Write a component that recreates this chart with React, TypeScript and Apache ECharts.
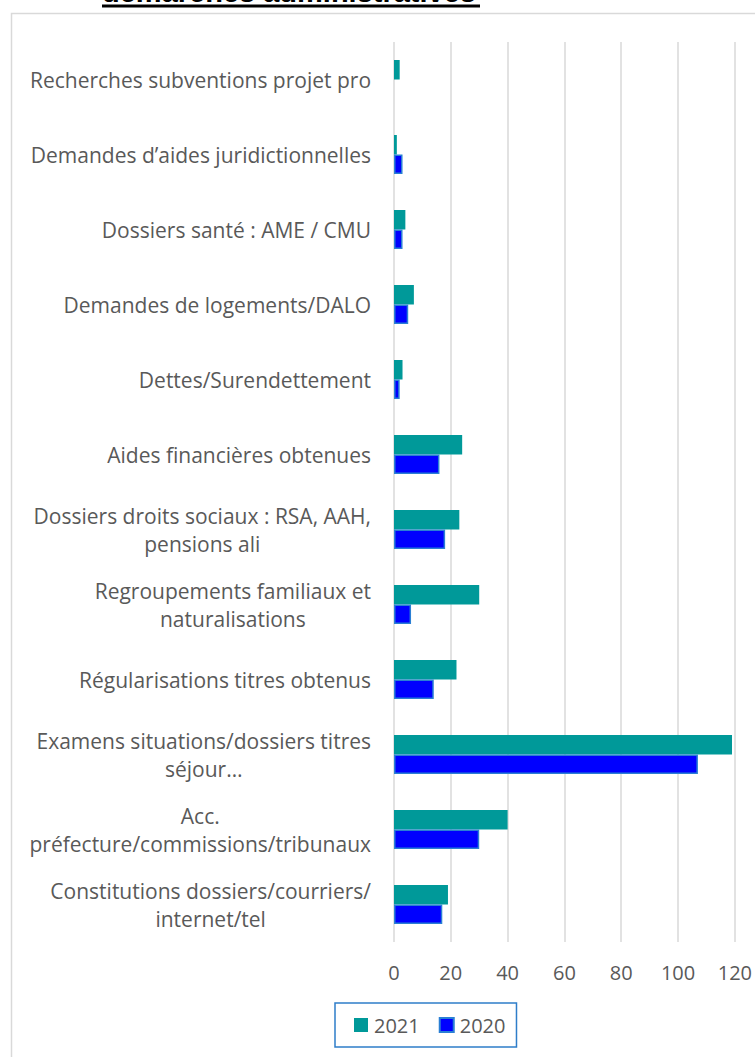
import React, { useEffect, useRef } from "react";
import * as echarts from "echarts";

const categories: string[] = [
  "Constitutions dossiers/courriers/\ninternet/tel",
  "Acc.\npréfecture/commissions/tribunaux",
  "Examens situations/dossiers titres\nséjour…",
  "Régularisations titres obtenus",
  "Regroupements familiaux et\nnaturalisations",
  "Dossiers droits sociaux : RSA, AAH,\npensions ali",
  "Aides financières obtenues",
  "Dettes/Surendettement",
  "Demandes de logements/DALO",
  "Dossiers santé : AME / CMU",
  "Demandes d’aides juridictionnelles",
  "Recherches subventions projet pro",
];

const values2021: number[] = [19, 40, 119, 22, 30, 23, 24, 3, 7, 4, 1, 2];
const values2020: number[] = [17, 30, 107, 14, 6, 18, 16, 2, 5, 3, 3, 0];

const seriesNames: string[] = ["2021", "2020"];
const xTicks = { min: 0, max: 120, interval: 20 };
const titleText = "démarches administratives";

const FONT = "'Open Sans', sans-serif";
const GRAY = "#595959";

export default function App() {
  const ref = useRef<HTMLDivElement>(null);

  useEffect(() => {
    if (!ref.current) return;
    const chart = echarts.init(ref.current, undefined, { renderer: "svg" });
    chart.setOption({
      animation: false,
      backgroundColor: "#ffffff",
      graphic: [
        {
          type: "rect",
          z: -10,
          shape: { x: 11.5, y: 13.5, width: 800, height: 1100 },
          style: { fill: "none", stroke: "#d9d9d9", lineWidth: 1.5 },
        },
        {
          type: "text",
          x: 102,
          y: -8,
          style: {
            text: titleText,
            font: "bold 29px 'Liberation Sans', Arial, sans-serif",
            fill: "#000000",
            verticalAlign: "middle",
            align: "left",
          },
        },
        {
          type: "rect",
          shape: { x: 102, y: 4.5, width: 378, height: 3 },
          style: { fill: "#000000" },
        },
      ],
      grid: { left: 394, right: 20, top: 42, bottom: 115, containLabel: false },
      legend: {
        data: seriesNames,
        left: 335,
        top: 1003,
        orient: "horizontal",
        icon: "rect",
        itemWidth: 14,
        itemHeight: 14,
        itemGap: 19,
        padding: [12, 11, 12, 19],
        borderColor: "#2e7dc9",
        borderWidth: 1.5,
        textStyle: { fontSize: 20, color: GRAY, fontFamily: FONT, padding: [0, 0, 0, 1] },
      },
      xAxis: {
        type: "value",
        min: xTicks.min,
        max: xTicks.max,
        interval: xTicks.interval,
        axisLine: { show: false },
        axisTick: { show: false },
        axisLabel: { fontSize: 20, color: GRAY, fontFamily: FONT, margin: 20 },
        splitLine: { show: true, lineStyle: { color: "#d9d9d9", width: 1.5 } },
      },
      yAxis: {
        type: "category",
        data: categories,
        axisLine: { show: false },
        axisTick: { show: false },
        axisLabel: {
          margin: 23,
          align: "right",
          formatter: (v: string) =>
            v
              .split("\n")
              .map((l) => `{c|${l}}`)
              .join("\n"),
          rich: {
            c: {
              fontSize: 21,
              color: GRAY,
              fontFamily: FONT,
              lineHeight: 28,
              align: "center",
            },
          },
        },
      },
      series: [
        {
          name: seriesNames[0],
          type: "bar",
          data: values2021.map((v) => (v === 0 ? null : v)),
          barCategoryGap: "48%",
          barGap: "0%",
          itemStyle: { color: "#009999" },
        },
        {
          name: seriesNames[1],
          type: "bar",
          data: values2020.map((v) => (v === 0 ? null : v)),
          barCategoryGap: "48%",
          barGap: "0%",
          itemStyle: { color: "#0000ff", borderColor: "#2a7fd4", borderWidth: 1.5 },
        },
      ],
    });
    return () => chart.dispose();
  }, []);

  return (
    <div
      ref={ref}
      style={{ position: "absolute", left: 0, top: 0, width: 755, height: 1057 }}
    />
  );
}
